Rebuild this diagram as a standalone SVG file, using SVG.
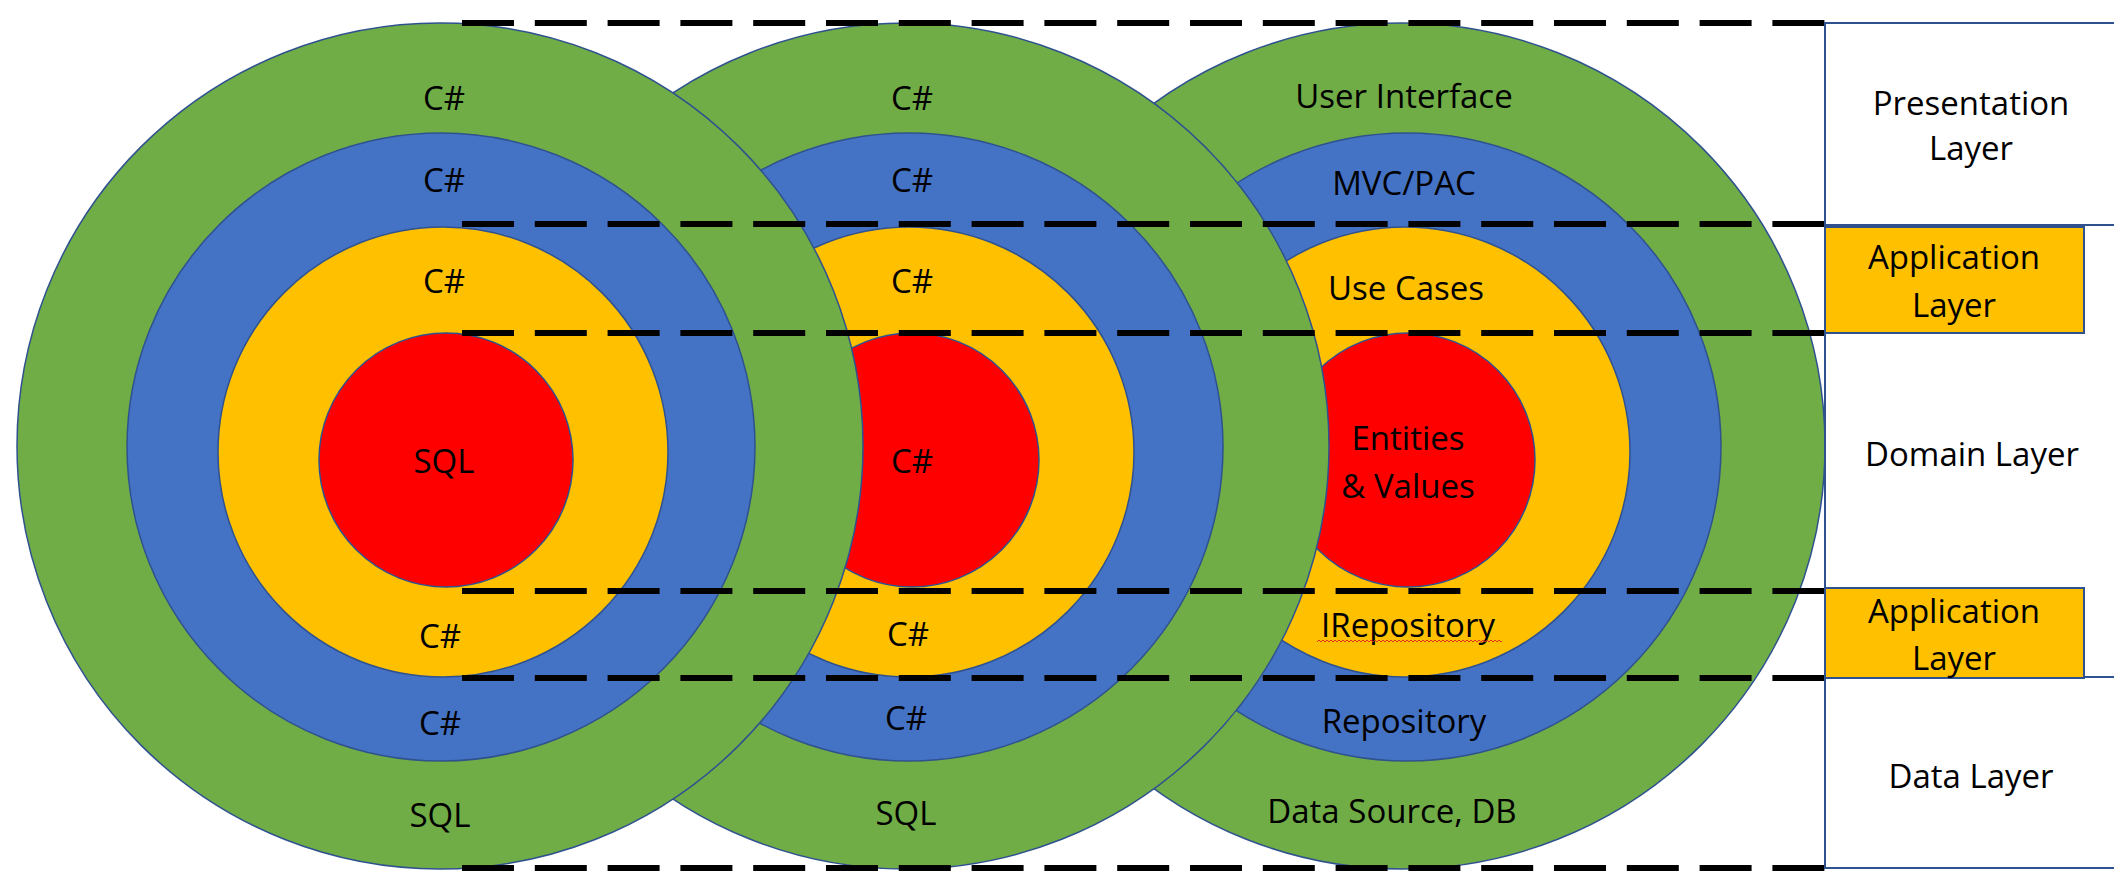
<svg xmlns="http://www.w3.org/2000/svg" width="2114" height="876" viewBox="0 0 2114 876">
<style>
.g{fill:#70AD47;stroke:#2F528F;stroke-width:1.5}
.b{fill:#4472C4;stroke:#2F528F;stroke-width:1.5}
.y{fill:#FFC000;stroke:#2F528F;stroke-width:1.5}
.r{fill:#FF0000;stroke:#2F528F;stroke-width:1.5}
.box{fill:#FFC000;stroke:#2F528F;stroke-width:2}
.frame{fill:#FFFFFF;stroke:#2F528F;stroke-width:2}
.dash{stroke:#000;stroke-width:6;stroke-dasharray:52 20.8;fill:none}
text{font-family:"Open Sans","Liberation Sans",sans-serif;font-size:33px;fill:#000;text-anchor:middle}
</style>
<defs>
<pattern id="wave" width="4" height="4" patternUnits="userSpaceOnUse" x="1317" y="639">
<path d="M0 3 L2 1 L4 3" fill="none" stroke="#E02020" stroke-width="0.9"/>
</pattern>
</defs>
<rect width="2114" height="876" fill="#FFFFFF"/>

<g id="onion-right">
<circle class="g" cx="1402" cy="446" r="423"/>
<circle class="b" cx="1407" cy="447" r="314"/>
<circle class="y" cx="1405" cy="452" r="225"/>
<circle class="r" cx="1408" cy="460" r="127"/>
<text x="1404" y="108">User Interface</text>
<text x="1404" y="195">MVC/PAC</text>
<text x="1406" y="300">Use Cases</text>
<text x="1408" y="450">Entities</text>
<text x="1408" y="498">&amp; Values</text>
<text x="1408" y="637">IRepository</text>
<rect x="1317" y="639" width="185" height="4" fill="url(#wave)"/>
<text x="1404" y="733">Repository</text>
<text x="1392" y="823">Data Source, DB</text>
</g>

<g id="onion-middle">
<circle class="g" cx="906" cy="446" r="423"/>
<circle class="b" cx="909" cy="447" r="314"/>
<circle class="y" cx="909" cy="452" r="225"/>
<circle class="r" cx="912" cy="460" r="127"/>
<text x="912" y="110">C#</text>
<text x="912" y="192">C#</text>
<text x="912" y="293">C#</text>
<text x="912" y="473">C#</text>
<text x="908" y="646">C#</text>
<text x="906" y="730">C#</text>
<text x="906" y="825">SQL</text>
</g>

<g id="onion-left">
<circle class="g" cx="440" cy="446" r="423"/>
<circle class="b" cx="441" cy="447" r="314"/>
<circle class="y" cx="443" cy="452" r="225"/>
<circle class="r" cx="446" cy="460" r="127"/>
<text x="444" y="110">C#</text>
<text x="444" y="192">C#</text>
<text x="444" y="293">C#</text>
<text x="444" y="473">SQL</text>
<text x="440" y="648">C#</text>
<text x="440" y="735">C#</text>
<text x="440" y="827">SQL</text>
</g>

<g id="connectors">
<line class="dash" x1="462" y1="23" x2="1825" y2="23"/>
<line class="dash" x1="462" y1="224" x2="1825" y2="224"/>
<line class="dash" x1="462" y1="333" x2="1825" y2="333"/>
<line class="dash" x1="462" y1="591" x2="1825" y2="591"/>
<line class="dash" x1="462" y1="678" x2="1825" y2="678"/>
<line class="dash" x1="462" y1="868" x2="1825" y2="868"/>
</g>

<g id="presentation-layer">
<rect class="frame" x="1825" y="23" width="300" height="202"/>
<text x="1971" y="115">Presentation</text>
<text x="1971" y="160">Layer</text>
</g>

<g id="domain-layer">
<line x1="1825" y1="333" x2="1825" y2="590" stroke="#2F528F" stroke-width="2"/>
<text x="1972" y="466">Domain Layer</text>
</g>

<g id="data-layer">
<rect class="frame" x="1825" y="677" width="300" height="191"/>
<text x="1971" y="788">Data Layer</text>
</g>

<g id="application-layer-top">
<rect class="box" x="1825" y="227" width="259" height="106"/>
<text x="1954" y="269">Application</text>
<text x="1954" y="317">Layer</text>
</g>

<g id="application-layer-bottom">
<rect class="box" x="1825" y="588" width="259" height="90"/>
<text x="1954" y="623">Application</text>
<text x="1954" y="670">Layer</text>
</g>
</svg>
